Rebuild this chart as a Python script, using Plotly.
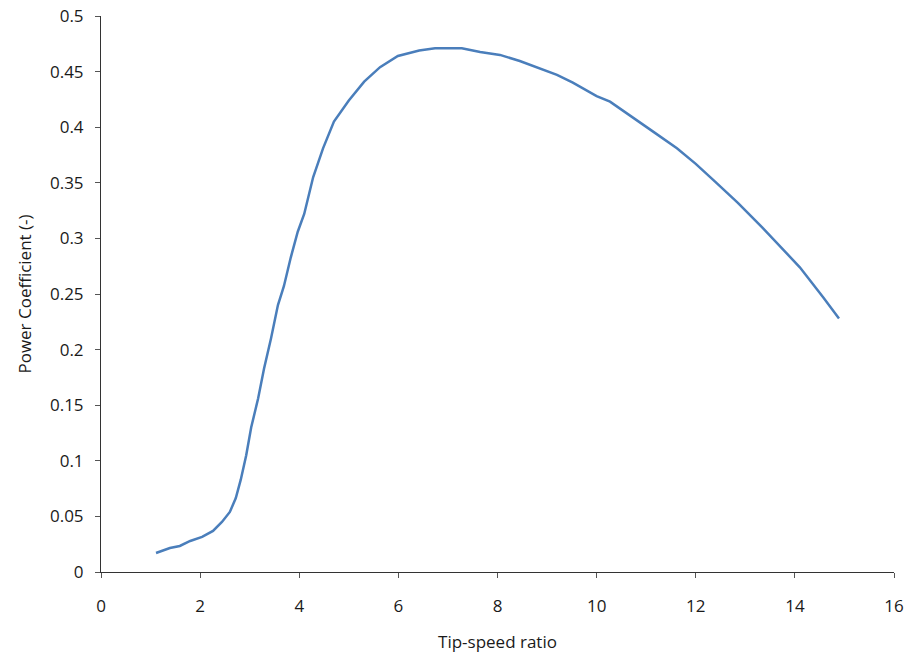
import plotly.graph_objects as go

tsr = [1.11, 1.39, 1.59, 1.80, 2.04, 2.26, 2.44, 2.60, 2.72, 2.82, 2.93, 3.03, 3.17, 3.29,
       3.43, 3.57, 3.69, 3.83, 3.97, 4.10, 4.28, 4.48, 4.70, 5.00, 5.31, 5.63, 5.99, 6.42,
       6.74, 7.28, 7.65, 8.05, 8.45, 8.86, 9.20, 9.52, 10.0, 10.27, 10.70, 11.14, 11.62,
       12.0, 12.39, 12.85, 13.34, 13.74, 14.10, 14.57, 14.89]
cp = [0.0171, 0.0216, 0.0234, 0.0279, 0.0315, 0.0369, 0.045, 0.054, 0.0665, 0.083, 0.105,
      0.130, 0.156, 0.183, 0.210, 0.240, 0.257, 0.283, 0.306, 0.322, 0.355, 0.381, 0.405,
      0.424, 0.441, 0.454, 0.464, 0.469, 0.471, 0.471, 0.4676, 0.465, 0.4595, 0.453, 0.447,
      0.440, 0.428, 0.423, 0.410, 0.396, 0.381, 0.367, 0.351, 0.332, 0.310, 0.291, 0.274,
      0.247, 0.228]

xticks = [0, 2, 4, 6, 8, 10, 12, 14, 16]
yticks = [0, 0.05, 0.1, 0.15, 0.2, 0.25, 0.3, 0.35, 0.4, 0.45, 0.5]
ytick_text = ["0", "0.05", "0.1", "0.15", "0.2", "0.25", "0.3", "0.35", "0.4", "0.45", "0.5"]

fig = go.Figure(go.Scatter(x=tsr, y=cp, mode="lines",
                           line=dict(color="#4A7EBB", width=2.5)))

font = dict(family="Open Sans, DejaVu Sans, sans-serif", size=17, color="#1a1a1a")
fig.update_layout(
    width=907, height=653,
    margin=dict(l=101, r=13, t=16, b=81, autoexpand=False),
    paper_bgcolor="white", plot_bgcolor="white",
    showlegend=False,
    font=font,
)
fig.update_xaxes(range=[0, 16], tickvals=xticks, ticks="outside", ticklen=5,
                 tickcolor="#555", showline=True, linecolor="#333", linewidth=1,
                 showgrid=False, zeroline=False, automargin=False,
                 ticklabelstandoff=14,
                 title=dict(text="Tip-speed ratio", font=font, standoff=22))
fig.update_yaxes(range=[0, 0.5], tickvals=yticks, ticktext=ytick_text, ticks="outside",
                 ticklen=5, tickcolor="#555", showline=True, linecolor="#333", linewidth=1,
                 showgrid=False, zeroline=False, automargin=False,
                 ticklabelstandoff=8,
                 title=dict(text="Power Coefficient (-)", font=font, standoff=14))

fig.write_html("out.html")
